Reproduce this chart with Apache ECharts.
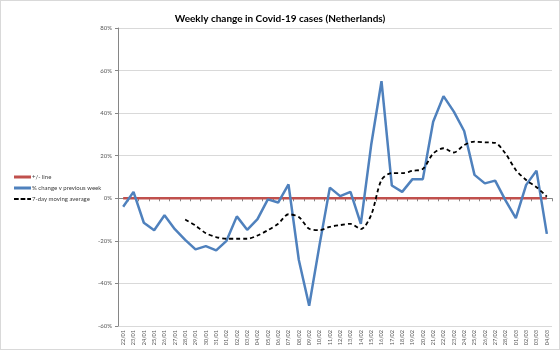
<!DOCTYPE html>
<html>
<head>
<meta charset="utf-8">
<script src="https://cdn.jsdelivr.net/npm/echarts@6/dist/echarts.min.js"></script>
<style>
html,body{margin:0;padding:0;background:#fff;}
#c{width:558px;height:348px;border:1px solid #d9d9d9;}
</style>
</head>
<body>
<div id="c"></div>
<script>
const categories = ["22/01","23/01","24/01","25/01","26/01","27/01","28/01","29/01","30/01","31/01",
"01/02","02/02","03/02","04/02","05/02","06/02","07/02","08/02","09/02","10/02","11/02","12/02","13/02","14/02",
"15/02","16/02","17/02","18/02","19/02","20/02","21/02","22/02","23/02","24/02","25/02","26/02","27/02","28/02",
"01/03","02/03","03/03","04/03"];
const weeklyChange = [-4,3,-11.5,-15,-8,-14.5,-19.5,-24,-22.5,-24.5,-20,-8.5,-14.8,-9.8,-0.5,-2,6.5,-29,-50.5,-22,5,1,3,-12,
25,55,6,3,9,9,36,48,40.7,31.6,11,7,8.3,-1,-9.3,6.3,13,-16.7];
const movingAvg = [null,null,null,null,null,null,-10,-12.8,-16.4,-18.2,-19,-19,-19,-17.5,-15,-12,-7.5,-8.8,-14.3,-15,-13.4,-12.6,-12,-14.5,
-7.8,8.6,11.8,11.8,12.9,13.8,21,23.5,21.5,25,26.6,26.3,26,21,13.3,8.6,5.2,0.8];
const zeroLine = categories.map(() => 0);

const chart = echarts.init(document.getElementById('c'));
const font = 'Lato, "Open Sans", sans-serif';
chart.setOption({
  animation: false,
  title: {
    text: 'Weekly change in Covid-19 cases (Netherlands)',
    left: 'center', top: 8,
    textStyle: {fontFamily: font, fontSize: 10, fontWeight: 'bold', color: '#000'}
  },
  legend: {
    orient: 'vertical', left: 8, top: 168,
    itemWidth: 17, itemHeight: 3, itemGap: 5,
    textStyle: {fontFamily: font, fontSize: 6, color: '#404040', padding: [0, 0, 0, -4]},
    data: [
      {name: '+/- line', icon: 'rect'},
      {name: '% change v previous week', icon: 'rect'},
      {name: '7-day moving average', icon: 'path://M0,0h5v2h-5z M7,0h5v2h-5z M14,0h4v2h-4z'}
    ]
  },
  grid: {left: 117, right: 7, top: 27, bottom: 23},
  xAxis: {
    type: 'category', data: categories, boundaryGap: true,
    axisLine: {lineStyle: {color: '#868686'}},
    axisTick: {show: true, lineStyle: {color: '#868686'}, length: 3},
    axisLabel: {rotate: 90, fontSize: 5.5, color: '#595959', fontFamily: font, interval: 0, margin: 4}
  },
  yAxis: {
    type: 'value', min: -60, max: 80, interval: 20,
    axisLine: {show: true, lineStyle: {color: '#868686'}},
    axisTick: {show: true, lineStyle: {color: '#868686'}, length: 3},
    axisLabel: {formatter: '{value}%', fontSize: 6, color: '#595959', fontFamily: font, margin: 6},
    splitLine: {lineStyle: {color: '#d9d9d9'}}
  },
  series: [
    {name: '+/- line', type: 'line', data: zeroLine, symbol: 'none',
     lineStyle: {color: '#c0504d', width: 2.5}, itemStyle: {color: '#c0504d'}, z: 2},
    {name: '% change v previous week', type: 'line', data: weeklyChange, symbol: 'none',
     lineStyle: {color: '#4f81bd', width: 2.5}, itemStyle: {color: '#4f81bd'}, z: 3},
    {name: '7-day moving average', type: 'line', data: movingAvg, symbol: 'none', smooth: 0.3,
     lineStyle: {color: '#000', width: 1.8, type: [4, 3]}, itemStyle: {color: '#000'}, z: 4}
  ]
});
</script>
</body>
</html>
